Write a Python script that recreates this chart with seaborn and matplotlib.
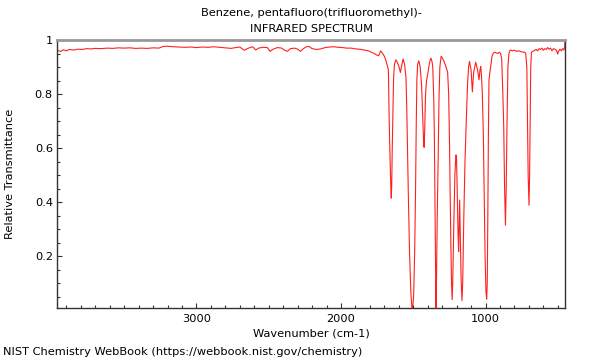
import matplotlib
matplotlib.use("Agg")
import matplotlib.pyplot as plt
import seaborn as sns
import pandas as pd
from matplotlib.ticker import MultipleLocator, FixedLocator, FixedFormatter

# ---- data ----
wavenumber = [
    3965, 3940, 3920, 3900, 3880, 3850, 3820, 3790, 3760, 3730, 3700, 3660, 3620, 3580,
    3540, 3500, 3460, 3420, 3380, 3340, 3300, 3260, 3230, 3200, 3160, 3120, 3080, 3040,
    3000, 2960, 2920, 2880, 2840, 2800, 2760, 2730, 2700, 2670, 2640, 2610, 2590, 2570,
    2540, 2510, 2490, 2470, 2440, 2410, 2390, 2370, 2350, 2320, 2300, 2280, 2260, 2240,
    2220, 2200, 2170, 2140, 2110, 2080, 2050, 2020, 1990, 1960, 1930, 1900, 1870, 1840,
    1810, 1790, 1770, 1755, 1740, 1725, 1712, 1700, 1690, 1680, 1672,
    1667, 1660, 1655, 1652, 1649, 1646, 1641, 1636, 1630, 1620, 1608, 1598, 1589, 1580,
    1570, 1560, 1550, 1545, 1540, 1533, 1525, 1516, 1510, 1507, 1503, 1497, 1490, 1484,
    1479, 1475, 1470, 1461, 1452, 1442, 1435, 1429, 1425, 1421, 1415, 1408, 1398, 1388,
    1378, 1370, 1365, 1358, 1354, 1350, 1346, 1343, 1339, 1334, 1328, 1322, 1316, 1307,
    1300, 1290, 1280, 1270, 1262, 1255, 1250, 1245, 1240, 1235, 1231, 1227, 1220, 1212,
    1205, 1201, 1196, 1190, 1186, 1182, 1179, 1175, 1169, 1163, 1158, 1150, 1142, 1132,
    1124, 1117, 1111, 1100, 1091, 1082, 1068, 1055, 1045, 1038, 1033, 1028, 1022, 1015,
    1008, 1003, 997, 992, 988, 984, 980, 976, 970, 962, 955, 945, 935, 925, 915, 905,
    895, 888, 880, 874, 868, 862, 857, 851, 845, 838, 829, 815, 800, 785, 770, 755, 740,
    728, 722, 714, 710, 705, 699, 695, 691, 687, 682, 672, 660, 650, 640, 630, 620, 610,
    600, 590, 580, 570, 560, 550, 540, 530, 520, 510, 500, 495, 485, 475, 465, 458, 452,
    450,
]
transmittance = [
    0.962, 0.958, 0.964, 0.960, 0.965, 0.963, 0.966, 0.965, 0.968, 0.967, 0.969, 0.968, 0.970, 0.969,
    0.971, 0.970, 0.971, 0.969, 0.970, 0.969, 0.971, 0.970, 0.976, 0.977, 0.975, 0.974, 0.973, 0.974,
    0.972, 0.974, 0.973, 0.975, 0.973, 0.971, 0.969, 0.972, 0.974, 0.962, 0.970, 0.975, 0.963, 0.970,
    0.973, 0.972, 0.958, 0.966, 0.972, 0.970, 0.962, 0.958, 0.968, 0.970, 0.966, 0.958, 0.968, 0.975,
    0.976, 0.968, 0.965, 0.967, 0.972, 0.974, 0.975, 0.973, 0.972, 0.970, 0.970, 0.967, 0.966, 0.963,
    0.960, 0.955, 0.950, 0.945, 0.942, 0.960, 0.950, 0.940, 0.925, 0.905, 0.890,
    0.720, 0.550, 0.450, 0.415, 0.460, 0.580, 0.720, 0.860, 0.910, 0.927, 0.915, 0.900, 0.880, 0.905,
    0.930, 0.910, 0.860, 0.750, 0.600, 0.400, 0.200, 0.060, 0.015, 0.008, 0.015, 0.060, 0.220, 0.450,
    0.700, 0.850, 0.910, 0.923, 0.900, 0.830, 0.720, 0.630, 0.603, 0.660, 0.800, 0.850, 0.880, 0.915,
    0.933, 0.920, 0.900, 0.780, 0.650, 0.400, 0.120, 0.010, 0.120, 0.350, 0.550, 0.780, 0.900, 0.940,
    0.935, 0.925, 0.910, 0.895, 0.880, 0.800, 0.650, 0.450, 0.250, 0.100, 0.040, 0.100, 0.300, 0.500,
    0.575, 0.570, 0.450, 0.280, 0.217, 0.330, 0.408, 0.300, 0.120, 0.036, 0.100, 0.350, 0.550, 0.720,
    0.840, 0.900, 0.921, 0.890, 0.808, 0.880, 0.918, 0.890, 0.853, 0.890, 0.902, 0.870, 0.800, 0.650,
    0.400, 0.200, 0.070, 0.042, 0.100, 0.350, 0.650, 0.850, 0.880, 0.910, 0.940, 0.952, 0.955, 0.952, 0.950, 0.955,
    0.950, 0.930, 0.800, 0.680, 0.450, 0.315, 0.450, 0.700, 0.900, 0.950, 0.963, 0.960, 0.962, 0.958, 0.960, 0.957, 0.955,
    0.955, 0.950, 0.900, 0.720, 0.500, 0.389, 0.500, 0.720, 0.900, 0.955, 0.958, 0.962, 0.965, 0.960, 0.968, 0.965, 0.970,
    0.962, 0.968, 0.965, 0.972, 0.966, 0.970, 0.960, 0.968, 0.966, 0.962, 0.948, 0.958, 0.966, 0.960, 0.968, 0.963, 0.975,
    1.000,
]

x_major = [3000, 2000, 1000]
x_labels = ["3000", "2000", "1000"]
y_major = [0.2, 0.4, 0.6, 0.8, 1.0]
y_labels = ["0.2", "0.4", "0.6", "0.8", "1"]

title_lines = ["Benzene, pentafluoro(trifluoromethyl)-", "INFRARED SPECTRUM"]
x_title = "Wavenumber (cm-1)"
y_title = "Relative Transmittance"
footer = "NIST Chemistry WebBook (https://webbook.nist.gov/chemistry)"

df = pd.DataFrame({"wn": wavenumber, "T": transmittance})

sns.set_style("ticks")
plt.rcParams["font.family"] = ["DejaVu Sans"]
plt.rcParams["text.color"] = "black"

FS = 8.2

fig = plt.figure(figsize=(6, 3.6), dpi=100)
ax = fig.add_axes([57 / 600, 1 - 308 / 360, (565 - 57) / 600, (308 - 40) / 360])

sns.lineplot(data=df, x="wn", y="T", sort=False, estimator=None, color="#ff2020",
             linewidth=0.8, ax=ax)

ax.set_xlim(3965, 450)
ax.set_ylim(0.009, 1.0)

ax.xaxis.set_major_locator(FixedLocator(x_major))
ax.xaxis.set_major_formatter(FixedFormatter(x_labels))
ax.xaxis.set_minor_locator(MultipleLocator(100))
ax.yaxis.set_major_locator(FixedLocator(y_major))
ax.yaxis.set_major_formatter(FixedFormatter(y_labels))
ax.yaxis.set_minor_locator(MultipleLocator(0.05))

ax.tick_params(which="both", direction="in", colors="#333333", labelcolor="black",
               labelsize=FS)
ax.tick_params(which="major", length=3.6, width=0.8)
ax.tick_params(which="minor", length=2.0, width=0.8)
ax.tick_params(axis="x", which="major", pad=4.5)
ax.tick_params(axis="y", which="major", pad=3)

ax.set_xlabel("")
ax.set_ylabel("")

for side in ["left", "bottom", "right"]:
    ax.spines[side].set_visible(True)
    ax.spines[side].set_color("#333333")
    ax.spines[side].set_linewidth(1.0)
ax.spines["top"].set_visible(True)
ax.spines["top"].set_color("#999999")
ax.spines["top"].set_linewidth(2.0)

fig.text(311 / 600, 1 - 13 / 360, title_lines[0], ha="center", va="center", fontsize=FS, color="black")
fig.text(311 / 600, 1 - 29 / 360, title_lines[1], ha="center", va="center", fontsize=FS, color="black")
fig.text(311 / 600, 1 - 333 / 360, x_title, ha="center", va="center", fontsize=FS, color="black")
fig.text(10 / 600, 1 - 174 / 360, y_title, ha="center", va="center", rotation=90, fontsize=FS, color="black")
fig.text(3 / 600, 1 - 352 / 360, footer, ha="left", va="center", fontsize=FS, color="black")

fig.savefig("out.png", dpi=100)
